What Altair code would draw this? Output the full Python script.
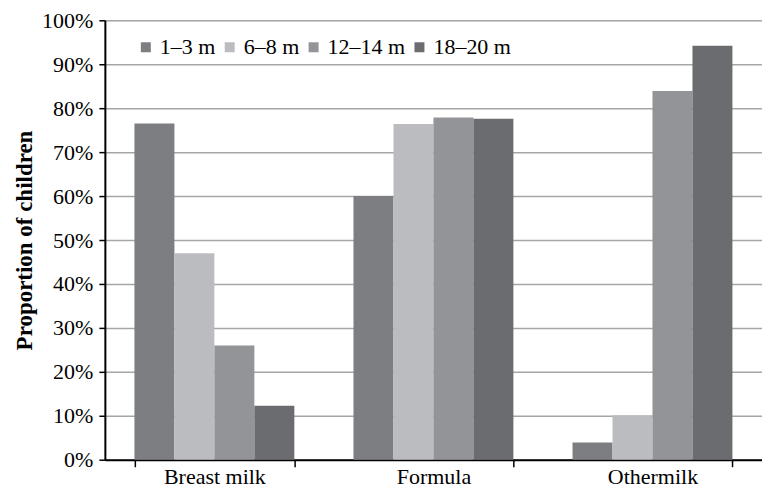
import altair as alt
import pandas as pd

categories = ["Breast milk", "Formula", "Othermilk"]
ages = ["1–3 m", "6–8 m", "12–14 m", "18–20 m"]
breast = [0.765, 0.470, 0.260, 0.123]
formula = [0.600, 0.764, 0.779, 0.776]
other = [0.039, 0.101, 0.839, 0.942]
colors = ["#7d7e82", "#bbbcbf", "#939497", "#6b6c70"]

rows = []
for cat, vals in zip(categories, [breast, formula, other]):
    for age, v in zip(ages, vals):
        rows.append({"cat": cat, "age": age, "value": v})
df = pd.DataFrame(rows)

font = "Liberation Serif"
fs = 22

chart = alt.Chart(df).mark_bar().encode(
    x=alt.X("cat:N", sort=categories, title=None,
            scale=alt.Scale(paddingInner=0.27, paddingOuter=0.135),
            axis=alt.Axis(labelAngle=0, tickBand="extent", grid=False,
                          domainColor="#000", domainWidth=2, tickColor="#000",
                          tickWidth=1.5, tickSize=7, labelFont=font,
                          labelFontSize=fs, labelColor="#000", labelPadding=0)),
    xOffset=alt.XOffset("age:N", sort=ages),
    y=alt.Y("value:Q", title="Proportion of children",
            scale=alt.Scale(domain=[0, 1], nice=False),
            axis=alt.Axis(format=".0%", values=[i / 10 for i in range(11)],
                          grid=True, gridColor="#a6a6a6", gridWidth=1.5,
                          domainColor="#000", domainWidth=2, tickColor="#000",
                          tickWidth=1.5, tickSize=6, labelFont=font,
                          labelFontSize=fs, labelColor="#000", labelPadding=6,
                          titleFont=font, titleFontSize=23, titleFontWeight="bold",
                          titleColor="#000", titlePadding=5)),
    color=alt.Color("age:N", sort=ages,
                    scale=alt.Scale(domain=ages, range=colors),
                    legend=alt.Legend(title=None, orient="none", direction="horizontal",
                                      legendX=30, legendY=16, symbolType="square",
                                      symbolSize=100, symbolStrokeWidth=0,
                                      labelFont=font, labelFontSize=fs,
                                      labelColor="#000", columnPadding=3,
                                      labelOffset=3, symbolOpacity=1)),
).properties(
    width=658, height=440,
    padding={"left": 97, "top": 12, "right": 0, "bottom": 28},
    autosize="none",
).configure_view(stroke=None).configure(background="white")

chart.save("out.html", embed_options={"renderer": "svg", "actions": False})
